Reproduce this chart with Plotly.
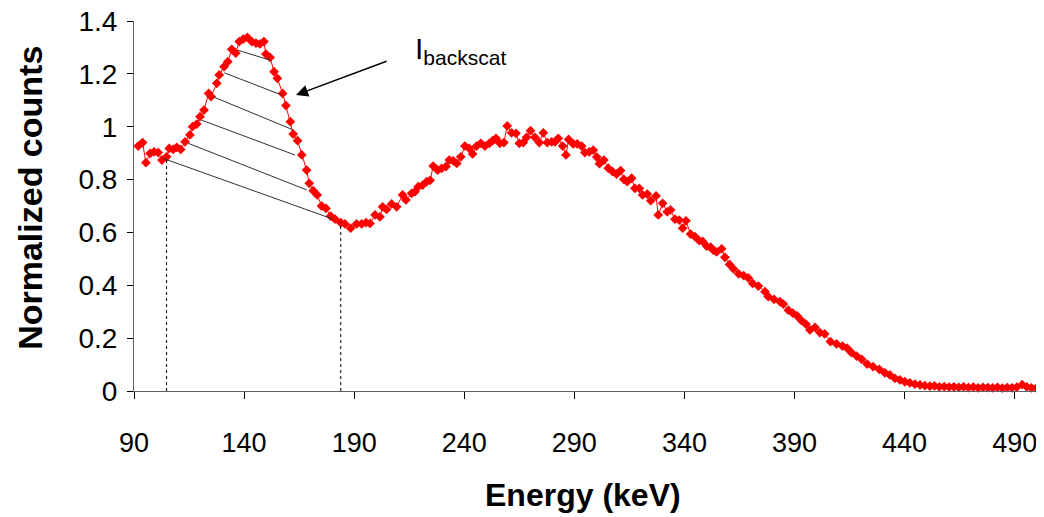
import plotly.graph_objects as go

energy = [91.9, 93.9, 95.4, 97.3, 99.1, 101.0, 102.7, 104.8, 106.0, 107.8, 109.4, 111.2, 113.2, 115.4, 116.6,
          118.5, 120.0, 121.8, 123.9, 125.0, 127.6, 128.7, 130.9, 132.6, 134.4, 136.2, 137.8, 139.6, 141.5,
          143.5, 145.4, 147.2, 149.0, 149.9, 151.8, 153.6, 155.1, 157.5, 159.0, 161.0, 162.3, 164.3, 166.2,
          168.4, 169.6, 171.4, 173.2, 175.2, 177.2, 179.3, 181.3, 183.9, 185.8, 188.4, 191.1, 193.4, 195.4,
          197.2, 199.5, 201.7, 202.9, 204.7, 207.0, 209.3, 212.0, 213.5, 216.1, 217.6, 219.1, 221.1, 222.9,
          224.5, 225.9, 227.9, 229.7, 231.7, 233.2, 235.0, 236.6, 238.4, 240.3, 242.3, 243.8, 245.6, 247.5,
          249.4, 251.4, 252.9, 254.4, 256.2, 258.0, 259.5, 261.5, 263.5, 265.0, 266.8, 268.3, 270.1, 272.1,
          274.1, 275.9, 277.7, 279.7, 281.2, 282.7, 284.7, 286.2, 287.4, 289.5, 291.3, 293.3, 294.8, 296.8,
          298.6, 300.2, 301.4, 303.4, 305.4, 307.4, 309.2, 311.0, 312.5, 314.0, 316.0, 317.5, 319.5, 321.0,
          323.1, 324.7, 327.1, 328.1, 330.1, 332.2, 333.7, 335.7, 337.6, 339.2, 340.7, 342.8, 344.8, 346.7,
          348.3, 350.1, 351.9, 353.1, 354.6, 356.9, 358.4, 360.5, 362.3, 364.7, 366.9, 369.0, 371.0, 373.6,
          376.6, 378.1, 380.7, 383.4, 384.9, 387.2, 389.2, 391.2, 393.2, 395.2, 397.0, 399.3, 401.5, 403.7,
          406.3, 409.1, 411.8, 413.9, 415.9, 418.2, 420.5, 423.0, 425.7, 428.5, 431.0, 433.3, 435.6, 437.9,
          440.1, 442.4, 444.7, 447.0, 449.2, 451.5, 453.6, 455.8, 458.0, 460.2, 462.4, 464.6, 466.8, 469.0,
          471.2, 473.4, 475.6, 477.8, 480.0, 482.2, 484.4, 486.6, 488.8, 491.0, 493.4, 495.5, 497.6, 499.8]

counts = [0.927, 0.940, 0.864, 0.899, 0.905, 0.902, 0.874, 0.886, 0.918, 0.914, 0.922, 0.914, 0.943, 0.969, 1.000,
          1.010, 1.038, 1.063, 1.126, 1.114, 1.164, 1.196, 1.227, 1.246, 1.293, 1.278, 1.322, 1.331, 1.338,
          1.322, 1.316, 1.313, 1.322, 1.275, 1.262, 1.208, 1.183, 1.126, 1.080, 1.019, 0.972, 0.947, 0.893,
          0.836, 0.786, 0.758, 0.742, 0.700, 0.691, 0.662, 0.650, 0.637, 0.632, 0.616, 0.632, 0.632, 0.637,
          0.634, 0.666, 0.659, 0.697, 0.687, 0.708, 0.697, 0.742, 0.723, 0.748, 0.754, 0.773, 0.779, 0.792,
          0.797, 0.851, 0.836, 0.842, 0.849, 0.874, 0.871, 0.861, 0.886, 0.927, 0.918, 0.897, 0.927, 0.937,
          0.927, 0.937, 0.947, 0.956, 0.937, 0.940, 1.003, 0.977, 0.975, 0.937, 0.940, 0.960, 0.985, 0.960,
          0.940, 0.977, 0.940, 0.943, 0.943, 0.956, 0.927, 0.893, 0.952, 0.935, 0.935, 0.927, 0.902, 0.905,
          0.911, 0.885, 0.860, 0.874, 0.843, 0.830, 0.821, 0.834, 0.801, 0.792, 0.805, 0.767, 0.767, 0.742,
          0.745, 0.720, 0.738, 0.666, 0.710, 0.678, 0.685, 0.650, 0.647, 0.616, 0.644, 0.594, 0.584, 0.569,
          0.566, 0.548, 0.544, 0.533, 0.526, 0.538, 0.506, 0.479, 0.462, 0.443, 0.437, 0.428, 0.407, 0.397,
          0.376, 0.357, 0.347, 0.338, 0.329, 0.306, 0.295, 0.284, 0.266, 0.253, 0.231, 0.241, 0.221, 0.216,
          0.187, 0.178, 0.170, 0.162, 0.145, 0.132, 0.120, 0.102, 0.092, 0.082, 0.069, 0.061, 0.048, 0.042,
          0.035, 0.031, 0.026, 0.023, 0.020, 0.018, 0.019, 0.016, 0.017, 0.015, 0.016, 0.014, 0.016, 0.013,
          0.015, 0.012, 0.014, 0.013, 0.012, 0.014, 0.011, 0.013, 0.012, 0.015, 0.024, 0.016, 0.012, 0.011]

x_ticks = [90, 140, 190, 240, 290, 340, 390, 440, 490]
y_ticks = [0, 0.2, 0.4, 0.6, 0.8, 1.0, 1.2, 1.4]
y_tick_text = ["0", "0.2", "0.4", "0.6", "0.8", "1", "1.2", "1.4"]

# hatch lines of the backscatter area: (x0, y0, x1, y1)
hatch_x0 = [136.9, 131.0, 126.0, 120.7, 114.7, 103.3]
hatch_y0 = [1.290, 1.204, 1.113, 1.025, 0.937, 0.880]
hatch_x1 = [151.8, 157.1, 162.3, 163.1, 168.4, 180.5]
hatch_y1 = [1.252, 1.120, 0.988, 0.893, 0.761, 0.650]

# dotted integration limits
limit_x = [104.8, 183.9]
limit_top = [0.880, 0.640]

font = "Arial, Liberation Sans, sans-serif"

fig = go.Figure()
fig.add_trace(go.Scatter(
    x=energy, y=counts, mode="lines+markers",
    line=dict(color="#FF0000", width=1),
    marker=dict(symbol="diamond", size=7.5, color="#FF0000"),
    showlegend=False, cliponaxis=False,
))

for x0, y0, x1, y1 in zip(hatch_x0, hatch_y0, hatch_x1, hatch_y1):
    fig.add_shape(type="line", xref="x", yref="y", x0=x0, y0=y0, x1=x1, y1=y1,
                  line=dict(color="#303030", width=1))

for lx, lt in zip(limit_x, limit_top):
    fig.add_shape(type="line", xref="x", yref="y", x0=lx, y0=0, x1=lx, y1=lt,
                  line=dict(color="#000000", width=1, dash="dot"))

# arrow pointing at peak
fig.add_annotation(x=163.6, y=1.120, ax=205.4, ay=1.250, xref="x", yref="y",
                   axref="x", ayref="y", text="", showarrow=True,
                   arrowhead=2, arrowsize=1.6, arrowwidth=1.5, arrowcolor="#000000")
fig.add_annotation(x=216.8, y=1.29, xref="x", yref="y", text="I<sub>backscat</sub>",
                   showarrow=False, xanchor="left", yanchor="middle",
                   font=dict(family=font, size=30, color="#000000"))

# axis titles
fig.add_annotation(x=-0.1148, y=0.522, xref="paper", yref="paper", text="<b>Normalized counts</b>",
                   showarrow=False, textangle=-90, xanchor="center", yanchor="middle",
                   font=dict(family=font, size=34, color="#000000"))
fig.add_annotation(x=0.4956, y=-0.281, xref="paper", yref="paper", text="<b>Energy (keV)</b>",
                   showarrow=False, xanchor="center", yanchor="middle",
                   font=dict(family=font, size=32, color="#000000"))

# the page body has an 8 px margin, so the figure is sized to fit the window
fig.update_layout(
    width=1036, height=509,
    margin=dict(l=126, r=4, t=13, b=126),
    paper_bgcolor="white", plot_bgcolor="white",
    font=dict(family=font, color="#000000"),
)
fig.update_xaxes(
    range=[90, 501.5], tickmode="array", tickvals=x_ticks,
    ticktext=[str(v) for v in x_ticks], automargin=False, ticklabeloverflow="allow",
    showgrid=False, zeroline=False, showline=True, linecolor="#606060", linewidth=1,
    ticks="outside", ticklen=7, tickcolor="#000000", tickwidth=1,
    tickfont=dict(family=font, size=27), ticklabelstandoff=21,
)
fig.update_yaxes(
    range=[0, 1.4], tickmode="array", tickvals=y_ticks,
    ticktext=y_tick_text, automargin=False, ticklabeloverflow="allow",
    showgrid=False, zeroline=False, showline=True, linecolor="#606060", linewidth=1,
    ticks="outside", ticklen=6, tickcolor="#000000", tickwidth=1,
    tickfont=dict(family=font, size=28), ticklabelstandoff=4,
)

fig.write_html("out.html")
